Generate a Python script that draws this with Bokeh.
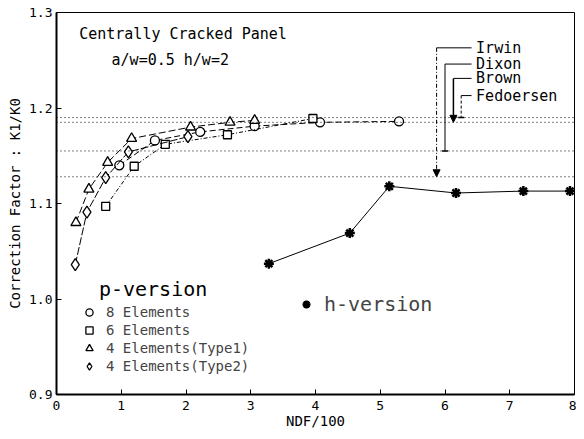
from bokeh.plotting import figure
from bokeh.models import (Span, Label, Legend, LegendItem, FixedTicker, Arrow,
                          NormalHead, TeeHead, NumeralTickFormatter)
from bokeh.core.properties import value
from bokeh.embed import file_html
from bokeh.resources import INLINE

FONT = "DejaVu Sans Mono"

# ---------------- data ----------------
x_ticks = [0, 1, 2, 3, 4, 5, 6, 7, 8]
y_ticks = [0.9, 1.0, 1.1, 1.2, 1.3]

el8_x = [0.97, 1.52, 2.22, 3.06, 4.07, 5.29]
el8_y = [1.140, 1.166, 1.175, 1.181, 1.185, 1.186]

el6_x = [0.76, 1.20, 1.68, 2.64, 3.96]
el6_y = [1.097, 1.139, 1.162, 1.172, 1.189]

t1_x = [0.30, 0.50, 0.79, 1.16, 2.07, 2.68, 3.06]
t1_y = [1.080, 1.115, 1.143, 1.168, 1.180, 1.185, 1.187]

t2_x = [0.29, 0.47, 0.76, 1.11, 2.03]
t2_y = [1.036, 1.091, 1.127, 1.154, 1.170]

h_x = [3.28, 4.53, 5.14, 6.17, 7.21, 7.93]
h_y = [1.037, 1.069, 1.118, 1.111, 1.113, 1.113]

ref_names = ["Irwin", "Dixon", "Brown", "Fedoersen"]
ref_values = [1.128, 1.155, 1.185, 1.190]
ref_x = [5.87, 6.00, 6.13, 6.25]
ref_label_y = [1.263, 1.246, 1.231, 1.213]
ref_label_x = 6.48

# ---------------- figure ----------------
p = figure(width=576, height=431, x_range=(0, 8), y_range=(0.9, 1.3),
           output_backend="svg", toolbar_location=None,
           min_border_left=56, min_border_right=2, min_border_top=12,
           min_border_bottom=36)
p.grid.visible = False
p.outline_line_color = "black"
p.outline_line_width = 1
p.background_fill_color = "white"
p.border_fill_color = "white"

for ax in (p.xaxis[0], p.yaxis[0]):
    ax.major_tick_in = 5
    ax.major_tick_out = 0
    ax.minor_tick_in = 0
    ax.minor_tick_out = 0
    ax.axis_line_width = 2
    ax.axis_line_color = "black"
    ax.major_tick_line_color = "black"
    ax.major_label_text_font = FONT
    ax.major_label_text_font_size = "13px"
    ax.major_label_text_color = "black"
    ax.axis_label_text_font = FONT
    ax.axis_label_text_font_size = "14px"
    ax.axis_label_text_font_style = "normal"
    ax.axis_label_text_color = "black"

p.xaxis.ticker = FixedTicker(ticks=x_ticks)
p.yaxis.ticker = FixedTicker(ticks=y_ticks)
p.yaxis.formatter = NumeralTickFormatter(format="0.0")
p.xaxis.axis_label = "NDF/100"
p.yaxis.axis_label = "Correction Factor : K1/K0"
p.xaxis.major_label_standoff = 6
p.yaxis.major_label_standoff = 4
p.xaxis.axis_label_standoff = 0
p.yaxis.axis_label_standoff = 3

# reference lines
for v in ref_values:
    p.add_layout(Span(location=v, dimension="width", line_color="black",
                      line_width=1, line_dash="1 3"))

# reference arrows and labels
ref_dash = ["4 2 1 2", "solid", "solid", "3 2"]
ref_width = [1, 1, 1.5, 1]
for i in range(len(ref_names)):
    if i in (0, 2):
        head = NormalHead(size=7, fill_color="black", line_color="black")
    else:
        head = TeeHead(size=6, line_color="black", line_width=1.5)
    p.add_layout(Arrow(end=head, x_start=ref_x[i], y_start=ref_label_y[i],
                       x_end=ref_x[i], y_end=ref_values[i],
                       line_color="black", line_width=ref_width[i],
                       line_dash=ref_dash[i]))
p.segment(x0=ref_x, y0=ref_label_y, x1=[ref_label_x - 0.07] * 4, y1=ref_label_y,
          line_color="black", line_width=1)
p.text(x=[ref_label_x] * 4, y=ref_label_y, text=ref_names,
       text_font=value(FONT), text_font_size="15px", text_baseline="middle",
       text_color="black")

# p-version series
p.line(el8_x, el8_y, line_color="black", line_width=1, line_dash="6 3")
s8 = p.scatter(el8_x, el8_y, marker="circle", size=9, fill_color="white",
               line_color="black", line_width=1.3)
p.line(el6_x, el6_y, line_color="black", line_width=1, line_dash="4 2 1 2")
s6 = p.scatter(el6_x, el6_y, marker="square", size=8, fill_color="white",
               line_color="black", line_width=1.3)
p.line(t1_x, t1_y, line_color="black", line_width=1, line_dash="7 3")
st1 = p.scatter(t1_x, t1_y, marker="triangle", size=10, fill_color="white",
                line_color="black", line_width=1.3)
p.line(t2_x, t2_y, line_color="black", line_width=1, line_dash="8 2")
st2 = p.scatter(t2_x, t2_y, marker="diamond", size=12, fill_color="white",
                line_color="black", line_width=1.3)

# h-version
p.line(h_x, h_y, line_color="black", line_width=1)
sh = p.scatter(h_x, h_y, marker="asterisk", size=10, line_color="black",
               line_width=2.5)

# annotations
p.add_layout(Label(x=0.35, y=1.277, text="Centrally Cracked Panel",
                   text_font=FONT, text_font_size="15px",
                   text_baseline="middle", text_color="black"))
p.add_layout(Label(x=0.85, y=1.250, text="a/w=0.5  h/w=2",
                   text_font=FONT, text_font_size="15px",
                   text_baseline="middle", text_color="black"))
p.add_layout(Label(x=0.655, y=1.010, text="p-version",
                   text_font=FONT, text_font_size="20px",
                   text_baseline="middle", text_color="black"))

leg = Legend(items=[LegendItem(label="8 Elements", renderers=[s8]),
                    LegendItem(label="6 Elements", renderers=[s6]),
                    LegendItem(label="4 Elements(Type1)", renderers=[st1]),
                    LegendItem(label="4 Elements(Type2)", renderers=[st2])],
             location=(24, 19), background_fill_alpha=0, border_line_alpha=0,
             padding=0, margin=0, glyph_width=18, glyph_height=18,
             label_height=16, label_standoff=8, spacing=-1,
             label_text_font=FONT, label_text_font_size="14px")
p.add_layout(leg)

leg2 = Legend(items=[LegendItem(label="h-version", renderers=[sh])],
              location=(240, 78), background_fill_alpha=0, border_line_alpha=0,
              padding=0, margin=0, glyph_width=20, glyph_height=20,
              label_height=20, label_standoff=8,
              label_text_font=FONT, label_text_font_size="20px")
p.add_layout(leg2)

open("out.html", "w").write(file_html(p, INLINE))
